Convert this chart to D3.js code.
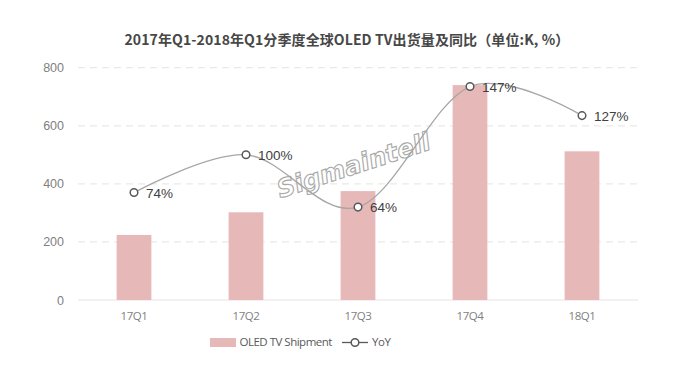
<!DOCTYPE html>
<html><head><meta charset="utf-8">
<script src="https://cdn.jsdelivr.net/npm/d3@7"></script>
<style>
body{margin:0;background:#fff;}
svg{display:block;}
</style></head>
<body><svg id="c" width="680" height="383"></svg>
<script>
const categories = ["17Q1","17Q2","17Q3","17Q4","18Q1"];
const shipment = [224, 302, 375, 740, 512];
const yoy = [74, 100, 64, 147, 127];
const yTicks = [0, 200, 400, 600, 800];
const title = "2017年Q1-2018年Q1分季度全球OLED TV出货量及同比（单位:K, %）";
const legendLabels = ["OLED TV Shipment", "YoY"];
const watermark = "Sigmaintell";

const svg = d3.select("#c");
const W = 680, H = 383;
const m = {left:78, right:42, top:67.7, bottom:83};
const x = d3.scaleBand().domain(categories).range([m.left, W - m.right]).paddingInner(0.69).paddingOuter(0.345);
const y = d3.scaleLinear().domain([0, 800]).range([H - m.bottom, m.top]);
const y2 = d3.scaleLinear().domain([0, 160]).range([H - m.bottom, m.top]);

// title
svg.append("text").attr("x", 347).attr("y", 45).attr("text-anchor","middle")
  .attr("font-family","'Noto Sans CJK SC','Noto Sans',sans-serif").attr("font-weight","bold")
  .attr("font-size",14).attr("fill","#474747").style("letter-spacing","0.1px").text(title);

// grid
svg.append("g").selectAll("line").data(yTicks.filter(d=>d>0)).join("line")
  .attr("x1", m.left).attr("x2", W - m.right)
  .attr("y1", d=>y(d)).attr("y2", d=>y(d))
  .attr("stroke","#ece9e1").attr("stroke-width",1.2).attr("stroke-dasharray","7,5");
svg.append("line").attr("x1", m.left).attr("x2", W - m.right)
  .attr("y1", y(0)).attr("y2", y(0)).attr("stroke","#e3e3e3").attr("stroke-width",1);

// y axis
const yAxis = svg.append("g").attr("transform",`translate(${m.left-14},0)`)
  .call(d3.axisLeft(y).tickValues(yTicks).tickSize(0).tickPadding(0));
yAxis.select(".domain").remove();
yAxis.selectAll("text").attr("font-family","'Liberation Sans',Arial,sans-serif")
  .attr("font-size",12.5).attr("fill","#7f7f7f");

// x axis
const xAxis = svg.append("g").attr("transform",`translate(0,${y(0)+12})`)
  .call(d3.axisBottom(x).tickSize(0).tickPadding(0));
xAxis.select(".domain").remove();
xAxis.selectAll(".tick text").attr("font-family","'Open Sans','Noto Sans',sans-serif")
  .attr("font-size",11.5).attr("fill","#7f7f7f").attr("dy","0.71em")
  .style("letter-spacing","-0.4px");

// bars
svg.append("g").selectAll("rect").data(shipment).join("rect")
  .attr("x",(d,i)=>x(categories[i])).attr("width",x.bandwidth())
  .attr("y",d=>y(d)).attr("height",d=>y(0)-y(d))
  .attr("fill","#e6b8b7");

// watermark
const cx = x.bandwidth()/2;
svg.append("text").attr("transform","translate(354,167) rotate(-18)")
  .attr("text-anchor","middle").attr("dominant-baseline","middle")
  .attr("font-family","'DejaVu Sans',sans-serif").attr("font-weight","bold").attr("font-style","italic")
  .attr("font-size",25).attr("fill","rgba(255,255,255,0.65)").attr("stroke","#a8a8a8").attr("stroke-width",1.1)
  .text(watermark);

// line
const pts = yoy.map((v,i)=>[x(categories[i])+cx, y2(v)]);
svg.append("path").attr("d", d3.line().curve(d3.curveCardinal.tension(0))(pts))
  .attr("fill","none").attr("stroke","#a6a6a6").attr("stroke-width",1.3);
svg.append("g").selectAll("circle").data(pts).join("circle")
  .attr("cx",d=>d[0]).attr("cy",d=>d[1]).attr("r",3.8)
  .attr("fill","#fff").attr("stroke","#595959").attr("stroke-width",1.5);
svg.append("g").selectAll("text").data(yoy).join("text")
  .attr("x",(d,i)=>pts[i][0]+12).attr("y",(d,i)=>pts[i][1]+1.5)
  .attr("dominant-baseline","middle")
  .attr("font-family","'Liberation Sans',Arial,sans-serif").attr("font-size",13.5)
  .attr("fill","#404040").text(d=>d+"%");

// legend
const lg = svg.append("g");
lg.append("rect").attr("x",210).attr("y",338).attr("width",26).attr("height",9).attr("fill","#e6b8b7");
lg.append("text").attr("x",239.5).attr("y",342.5).attr("dominant-baseline","middle")
  .attr("font-family","'Open Sans','Noto Sans',sans-serif").attr("font-size",11.5).attr("fill","#595959")
  .style("letter-spacing","-0.5px").text(legendLabels[0]);
lg.append("line").attr("x1",342).attr("x2",368).attr("y1",342.5).attr("y2",342.5).attr("stroke","#595959").attr("stroke-width",1.3);
lg.append("circle").attr("cx",355).attr("cy",342.5).attr("r",3.8).attr("fill","#fff").attr("stroke","#595959").attr("stroke-width",1.5);
lg.append("text").attr("x",372).attr("y",342.5).attr("dominant-baseline","middle")
  .attr("font-family","'Open Sans','Noto Sans',sans-serif").attr("font-size",11.5).attr("fill","#595959")
  .style("letter-spacing","-0.4px").text(legendLabels[1]);
</script></body></html>
